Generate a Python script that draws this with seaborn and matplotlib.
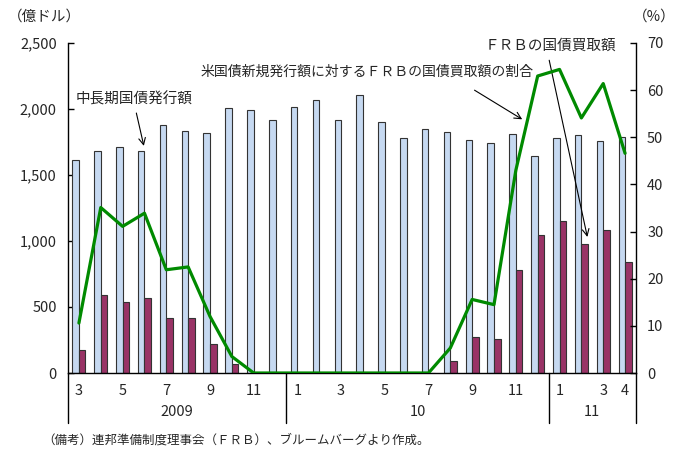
import numpy as np
import pandas as pd
import matplotlib
matplotlib.use("Agg")
import matplotlib.pyplot as plt
import seaborn as sns

# monthly data, 2009-03 .. 2011-04
months = [
    "2009-03", "2009-04", "2009-05", "2009-06", "2009-07", "2009-08", "2009-09",
    "2009-10", "2009-11", "2009-12", "2010-01", "2010-02", "2010-03", "2010-04",
    "2010-05", "2010-06", "2010-07", "2010-08", "2010-09", "2010-10", "2010-11",
    "2010-12", "2011-01", "2011-02", "2011-03", "2011-04",
]
issuance = [1610, 1680, 1715, 1685, 1875, 1835, 1815, 2010, 1990, 1920, 2015, 2068,
            1920, 2106, 1904, 1778, 1848, 1828, 1765, 1745, 1808, 1645, 1780, 1800,
            1760, 1786]
frb_purchase = [176, 590, 537, 570, 415, 415, 216, 70, 0, 0, 0, 0, 0, 0, 0, 0, 0,
                90, 275, 254, 783, 1045, 1148, 981, 1085, 839]
ratio = [10.6, 35.1, 31.1, 33.9, 21.9, 22.5, 12.0, 3.5, 0, 0, 0, 0, 0, 0, 0, 0, 0,
         5.3, 15.6, 14.5, 43.0, 63.0, 64.4, 54.1, 61.4, 46.6]

tick_pos = [0, 2, 4, 6, 8, 10, 12, 14, 16, 18, 20, 22, 24, 25]
tick_labels = ["3", "5", "7", "9", "11", "1", "3", "5", "7", "9", "11", "1", "3", "4"]
year_labels = ["2009", "10", "11"]
year_bounds = [-0.5, 9.5, 21.5, 25.5]

s_issue = "中長期国債発行額"
s_frb = "ＦＲＢの国債買取額"
s_ratio = "米国債新規発行額に対するＦＲＢの国債買取額の割合"

sns.set_theme(style="white")
plt.rcParams["font.family"] = ["Noto Sans CJK JP", "DejaVu Sans"]

df = pd.DataFrame({"month": months, s_issue: issuance, s_frb: frb_purchase})
long = df.melt(id_vars="month", var_name="series", value_name="value")

fig = plt.figure(figsize=(6.85, 4.61), dpi=100)
ax = fig.add_axes([68 / 685, 88 / 461, 568 / 685, 330 / 461])

sns.barplot(data=long, x="month", y="value", hue="series", order=months,
            hue_order=[s_issue, s_frb], palette=["#c6d9f1", "#993366"], saturation=1,
            width=0.6, edgecolor="#333333", linewidth=0.8, legend=False, ax=ax)

ax2 = ax.twinx()
sns.lineplot(x=np.arange(len(months)), y=ratio, color="#008a00", linewidth=2.3, ax=ax2)

ax.set_xlim(-0.5, len(months) - 0.5)
ax.set_ylim(0, 2500)
ax.set_yticks(range(0, 2501, 500))
ax.set_yticklabels([f"{v:,}" for v in range(0, 2501, 500)], fontsize=10.5)
ax2.set_ylim(0, 70)
ax2.set_yticks(range(0, 71, 10))
ax2.set_yticklabels([str(v) for v in range(0, 71, 10)], fontsize=10.5)

ax.set_xticks(tick_pos)
ax.set_xticklabels(tick_labels, fontsize=10.5)
ax.tick_params(axis="x", length=0, pad=8)
ax.tick_params(axis="y", direction="in", length=4, width=1, color="black", pad=8, left=True)
ax2.tick_params(axis="y", direction="in", length=4, width=1, color="black", pad=8, right=True)
ax.set_xlabel("")
ax.set_ylabel("")

for a in (ax, ax2):
    a.spines["top"].set_visible(False)
    for side in ("left", "right", "bottom"):
        a.spines[side].set_color("black")
        a.spines[side].set_linewidth(1)
ax.spines["right"].set_visible(False)
ax2.spines["left"].set_visible(False)
ax2.spines["bottom"].set_visible(False)

# category separators below the axis
trans = ax.get_xaxis_transform()
for xb in year_bounds:
    ax.plot([xb, xb], [0, -50 / 330], transform=trans, color="black", lw=1, clip_on=False)
for i, lab in enumerate(year_labels):
    xc = (year_bounds[i] + year_bounds[i + 1]) / 2
    ax.text(xc, -39 / 330, lab, transform=trans, ha="center", va="center", fontsize=10.5)

fig.text(8 / 685, 1 - 17 / 461, "（億ドル）", ha="left", va="center", fontsize=10.5)
fig.text(654 / 685, 1 - 17 / 461, "（%）", ha="center", va="center", fontsize=10.5)

# annotations
arrow = dict(arrowstyle="->", color="black", lw=0.8)
ax.annotate("", xy=(3, 1700), xytext=(2.6, 1990), arrowprops=arrow)
ax.text(-0.15, 2070, s_issue, fontsize=10.5, ha="left", va="center")
ax2.annotate("", xy=(20.4, 53.5), xytext=(18, 60.3), arrowprops=arrow)
ax2.text(20.8, 63.8, s_ratio, fontsize=10, ha="right", va="center")
ax.annotate("", xy=(23.3, 1010), xytext=(21.5, 2390), arrowprops=arrow)
ax.text(24.6, 2480, s_frb, fontsize=10.5, ha="right", va="center")

fig.text(42 / 685, 1 - 440 / 461, "（備考）連邦準備制度理事会（ＦＲＢ）、ブルームバーグより作成。",
         ha="left", va="center", fontsize=9)

fig.savefig("out.png", dpi=100)
